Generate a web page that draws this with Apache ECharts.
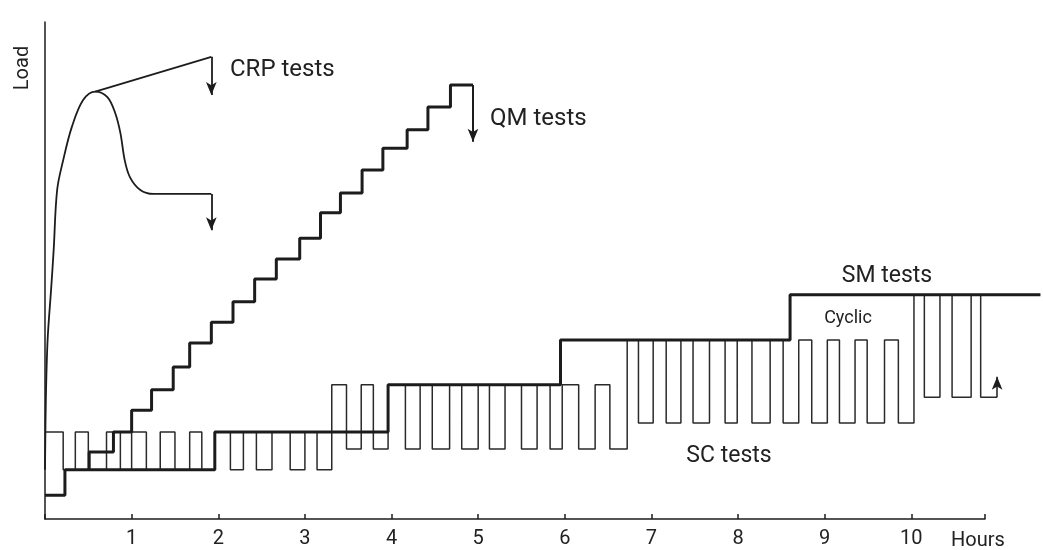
<!DOCTYPE html>
<html>
<head>
<meta charset="utf-8">
<script src="https://cdn.jsdelivr.net/npm/echarts@6/dist/echarts.min.js"></script>
<style>html,body{margin:0;padding:0;background:#fff}#c{width:1043px;height:550px}</style>
</head>
<body>
<div id="c"></div>
<script>
// x in hours, y in relative load units (0-100)
const xTicks = [1,2,3,4,5,6,7,8,9,10];

// CRP tests: rising curve, peak, relaxation
const crpCurve = [[0,9.9],[0.01,24.1],[0.03,36.0],[0.07,46.1],[0.10,54.1],[0.14,66.2],[0.21,72.2],[0.31,78.9],[0.44,84.3],[0.58,86.0],[0.72,84.9],[0.81,81.7],[0.87,77.7],[0.92,72.2],[0.98,68.8],[1.10,66.2],[1.25,65.4],[1.92,65.4]];
const crpUpper = [[0.58,86.0],[1.92,93.0]];
const crpArrowUpper = [[1.92,93.0],[1.92,85.3]];
const crpArrowLower = [[1.92,65.4],[1.92,58.1]];

// QM tests: step start x, level
const qmSteps = [[0.51,9.9],[0.51,13.5],[0.79,17.5],[1.00,21.9],[1.23,26.0],[1.48,30.6],[1.67,35.4],[1.92,39.6],[2.17,43.7],[2.42,48.3],[2.67,52.3],[2.94,56.5],[3.18,61.6],[3.41,65.6],[3.66,70.2],[3.90,74.6],[4.18,78.3],[4.42,82.9],[4.68,87.3],[4.94,87.3]];
const qmArrow = [[4.94,87.3],[4.94,75.9]];

// SM tests: step start x, level
const smSteps = [[0,4.8],[0.23,9.9],[1.96,17.5],[3.96,27.0],[5.95,36.0],[8.60,45.1],[11.49,45.1]];

// SC tests (cyclic): step start x, level
const scSteps = [[0,17.5],[0.21,9.9],[0.35,17.5],[0.50,9.9],[0.71,17.5],[0.87,9.9],[1.00,17.5],[1.17,9.9],[1.33,17.5],[1.50,9.9],[1.67,17.5],[1.81,9.9],[1.96,17.5],
 [2.14,9.9],[2.29,17.5],[2.44,9.9],[2.62,17.5],[2.83,9.9],[3.00,17.5],[3.14,9.9],[3.31,27.0],
 [3.48,14.1],[3.65,27.0],[3.79,14.1],[3.96,27.0],[4.16,14.1],[4.33,27.0],[4.47,14.1],[4.67,27.0],[4.81,14.1],[5.00,27.0],[5.13,14.1],[5.31,27.0],[5.50,14.1],[5.68,27.0],[5.83,14.1],[5.97,27.0],[6.16,14.1],[6.35,27.0],[6.52,14.1],[6.72,36.0],
 [6.85,19.3],[7.02,36.0],[7.17,19.3],[7.34,36.0],[7.48,19.3],[7.67,36.0],[7.85,19.3],[7.99,36.0],[8.16,19.3],[8.37,36.0],[8.52,19.3],[8.70,36.0],[8.85,19.3],[9.03,36.0],[9.17,19.3],[9.35,36.0],[9.49,19.3],[9.69,36.0],[9.85,19.3],[10.03,45.1],
 [10.15,24.5],[10.33,45.1],[10.47,24.5],[10.69,45.1],[10.80,24.5],[10.99,24.5]];
const scArrow = [[10.99,24.5],[10.99,28.6]];

const INK = '#1c1c1c';
const FONT = 'Roboto, "Liberation Sans", sans-serif';

// axis drawn to 10.85 h; the data area continues to 11.5 h at the same scale
const AXIS_MAX = 10.85, DATA_MAX = 11.5;
const LEFT = 45, AXIS_RIGHT = 58, W = 1043;
const DATA_RIGHT = W - LEFT - DATA_MAX * ((W - LEFT - AXIS_RIGHT) / AXIS_MAX);

function arrow(seg, width) {
  return {
    silent: true, animation: false,
    symbol: ['none','arrow'], symbolSize: [8, 13],
    label: {show: false},
    lineStyle: {type: 'solid', color: INK, width: width},
    data: [[{coord: seg[0]}, {coord: seg[1]}]]
  };
}

const chart = echarts.init(document.getElementById('c'), null, {renderer: 'canvas'});
chart.setOption({
  animation: false,
  backgroundColor: '#fff',
  grid: [
    {left: LEFT, right: AXIS_RIGHT, top: 22, bottom: 31},
    {left: LEFT, right: DATA_RIGHT, top: 22, bottom: 31}
  ],
  xAxis: [{
    type: 'value', gridIndex: 0, min: 0, max: AXIS_MAX, interval: 1,
    axisLine: {show: true, lineStyle: {color: INK, width: 1.5}},
    axisTick: {show: true, inside: true, length: 5, lineStyle: {color: INK, width: 1.5}},
    axisLabel: {show: true, margin: 10, fontSize: 20, color: '#222', fontFamily: FONT,
      formatter: v => (xTicks.indexOf(v) >= 0 ? String(v) : '')},
    splitLine: {show: false}
  }, {
    type: 'value', gridIndex: 1, min: 0, max: DATA_MAX, show: false
  }],
  yAxis: [{
    type: 'value', gridIndex: 0, min: 0, max: 100,
    axisLine: {show: true, lineStyle: {color: INK, width: 1.5}},
    axisTick: {show: false}, axisLabel: {show: false}, splitLine: {show: false}
  }, {
    type: 'value', gridIndex: 1, min: 0, max: 100, show: false
  }],
  series: [
    {type: 'line', name: 'SC', xAxisIndex: 1, yAxisIndex: 1, data: scSteps, step: 'end', showSymbol: false,
     lineStyle: {color: '#2a2a2a', width: 1.5}, markLine: arrow(scArrow, 1.5)},
    {type: 'line', name: 'SM', xAxisIndex: 1, yAxisIndex: 1, data: smSteps, step: 'end', showSymbol: false,
     lineStyle: {color: INK, width: 3}},
    {type: 'line', name: 'QM', xAxisIndex: 1, yAxisIndex: 1, data: qmSteps, step: 'end', showSymbol: false,
     lineStyle: {color: INK, width: 3}, markLine: arrow(qmArrow, 2)},
    {type: 'line', name: 'CRP', xAxisIndex: 1, yAxisIndex: 1, data: crpCurve, smooth: 0.35, showSymbol: false,
     lineStyle: {color: INK, width: 1.8}, markLine: arrow(crpArrowLower, 1.8)},
    {type: 'line', name: 'CRP2', xAxisIndex: 1, yAxisIndex: 1, data: crpUpper, showSymbol: false,
     lineStyle: {color: INK, width: 1.8}, markLine: arrow(crpArrowUpper, 1.8)}
  ],
  graphic: [
    {type: 'text', rotation: Math.PI/2, x: 23, y: 68, style: {text: 'Load', fontSize: 20, fontFamily: FONT, fill: '#222', textAlign: 'center', textVerticalAlign: 'middle'}},
    {type: 'text', x: 230, y: 70, style: {text: 'CRP tests', fontSize: 24, fontFamily: FONT, fill: '#222', textAlign: 'left', textVerticalAlign: 'middle'}},
    {type: 'text', x: 490, y: 119, style: {text: 'QM tests', fontSize: 24, fontFamily: FONT, fill: '#222', textAlign: 'left', textVerticalAlign: 'middle'}},
    {type: 'text', x: 887, y: 276, style: {text: 'SM tests', fontSize: 23, fontFamily: FONT, fill: '#222', textAlign: 'center', textVerticalAlign: 'middle'}},
    {type: 'text', x: 848, y: 318, style: {text: 'Cyclic', fontSize: 18, fontFamily: FONT, fill: '#222', textAlign: 'center', textVerticalAlign: 'middle'}},
    {type: 'text', x: 729, y: 456, style: {text: 'SC tests', fontSize: 23, fontFamily: FONT, fill: '#222', textAlign: 'center', textVerticalAlign: 'middle'}},
    {type: 'text', x: 951, y: 541, style: {text: 'Hours', fontSize: 20, fontFamily: FONT, fill: '#222', textAlign: 'left', textVerticalAlign: 'middle'}}
  ]
});
</script>
</body>
</html>
